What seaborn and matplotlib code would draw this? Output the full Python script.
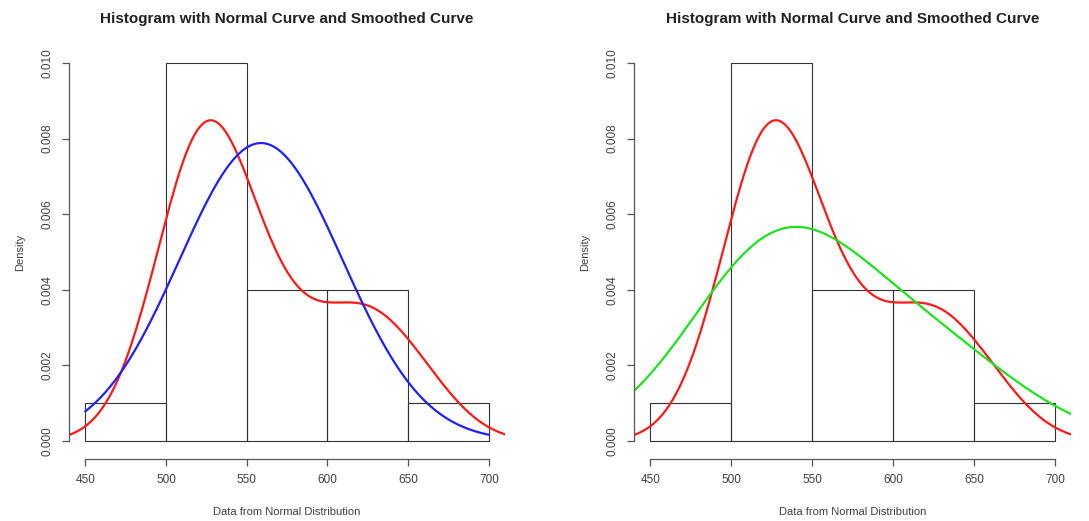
import numpy as np
import pandas as pd
import seaborn as sns
import matplotlib
matplotlib.use("Agg")
import matplotlib.pyplot as plt

# sample of 20 values read back from the histogram (bins of width 50)
sample_values = [492,
                 504, 511, 516, 520, 523, 526, 529, 532, 536, 542,
                 553, 561, 574, 592,
                 610, 620, 630, 642,
                 664]
bin_edges = [450, 500, 550, 600, 650, 700]
x_ticks = [450, 500, 550, 600, 650, 700]
y_ticks = [0.000, 0.002, 0.004, 0.006, 0.008, 0.010]

title_text = "Histogram with Normal Curve and Smoothed Curve"
x_label = "Data from Normal Distribution"
y_label = "Density"

sns.set_style("white")
plt.rcParams['font.family'] = ['Liberation Sans', 'DejaVu Sans']
text_color = "#404040"

df = pd.DataFrame({"value": sample_values})
mu = df["value"].mean()
sd = df["value"].std()

fig = plt.figure(figsize=(10.89, 5.21), dpi=100)
ax_left = fig.add_axes([0.0634, 0.1248, 0.4004, 0.7831])
ax_right = fig.add_axes([0.5822, 0.1248, 0.4013, 0.7831])


def draw_base(ax):
    sns.histplot(data=df, x="value", bins=bin_edges, stat="density", fill=False,
                 color="#333333", edgecolor="#333333", linewidth=0.8, ax=ax)
    # R's default smoothed density (nrd0 ~ 0.9 * scott)
    sns.kdeplot(data=df, x="value", bw_adjust=0.9, color="#ff1a1a", linewidth=1.6, ax=ax)


def style_axes(ax):
    ax.set_xlim(440, 710)
    ax.set_ylim(-0.0004, 0.0104)
    for side in ["top", "right"]:
        ax.spines[side].set_visible(False)
    ax.spines["left"].set_bounds(0, 0.010)
    ax.spines["bottom"].set_bounds(450, 700)
    ax.spines["bottom"].set_position(("outward", 2))
    for side in ["left", "bottom"]:
        ax.spines[side].set_color("#555555")
        ax.spines[side].set_linewidth(0.9)
    ax.set_xticks(x_ticks)
    ax.set_yticks(y_ticks)
    ax.set_yticklabels(["%.3f" % v for v in y_ticks], rotation=90, va="center")
    ax.tick_params(axis="both", direction="out", length=5, width=0.9, colors="#555555",
                   labelsize=8.5, labelcolor=text_color, pad=6, left=True, bottom=True)
    ax.set_xlabel(x_label, fontsize=8, color=text_color, labelpad=15)
    ax.set_ylabel(y_label, fontsize=8, color=text_color, labelpad=12)
    ax.set_title(title_text, fontsize=11, fontweight="bold", color="#222222", pad=18)


# left: histogram + smoothed curve + normal curve
draw_base(ax_left)
xs = np.linspace(450, 700, 300)
normal_df = pd.DataFrame({"x": xs, "y": np.exp(-0.5 * ((xs - mu) / sd) ** 2) / (sd * np.sqrt(2 * np.pi))})
sns.lineplot(data=normal_df, x="x", y="y", color="#2020ff", linewidth=1.6, ax=ax_left)
style_axes(ax_left)

# right: histogram + smoothed curve + wider smoothed curve
draw_base(ax_right)
sns.kdeplot(data=df, x="value", bw_adjust=1.8, color="#20e020", linewidth=1.6, ax=ax_right)
style_axes(ax_right)

fig.savefig("out.png", dpi=100)
